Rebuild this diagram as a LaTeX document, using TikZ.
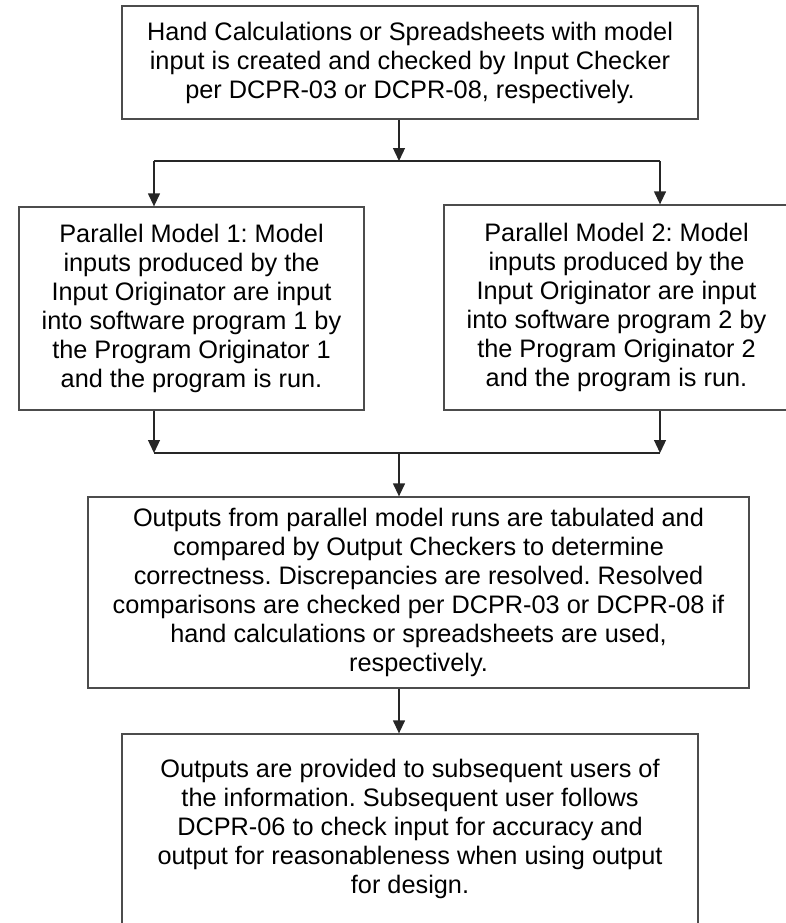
\documentclass[tikz,border=0pt]{standalone}
\usepackage{fontspec}
\setmainfont{Liberation Sans}
\frenchspacing
\usetikzlibrary{arrows.meta,calc}
\tikzset{
	stepbox/.style={
			draw=black!70, line width=1.3pt, inner sep=0pt, align=center,
			font=\fontsize{25.3}{29}\selectfont
		},
	flow/.style={line width=1.3pt, black!85},
	arr/.style={flow, -{Triangle[width=12pt,length=13pt]}}
}

\begin{document}
\begin{tikzpicture}[x=1pt, y=-1pt]
			\useasboundingbox (0, 0) rectangle (786, 923);
			\clip (0, 0) rectangle (786, 923);

			% boxes
			\node[stepbox, minimum width=576, minimum height=113] (hand) at (410, 62.5)
				{Hand Calculations or Spreadsheets with model\\input is created and checked by Input Checker\\per DCPR-03 or DCPR-08, respectively.};
			\node[stepbox, minimum width=345, minimum height=203] (par1) at (191.5, 308.5)
				{Parallel Model 1: Model\\inputs produced by the\\Input Originator are input\\into software program 1 by\\the Program Originator 1\\and the program is run.};
			\node[stepbox, minimum width=345, minimum height=205] (par2) at (616.5, 307.5)
				{Parallel Model 2: Model\\inputs produced by the\\Input Originator are input\\into software program 2 by\\the Program Originator 2\\and the program is run.};
			\node[stepbox, minimum width=661, minimum height=191] (cmp) at (418.5, 592.5)
				{Outputs from parallel model runs are tabulated and\\compared by Output Checkers to determine\\correctness. Discrepancies are resolved. Resolved\\comparisons are checked per DCPR-03 or DCPR-08 if\\hand calculations or spreadsheets are used,\\respectively.};
			\node[stepbox, minimum width=576, minimum height=190] (out) at (410, 829)
				{Outputs are provided to subsequent users of\\the information. Subsequent user follows\\DCPR-06 to check input for accuracy and\\output for reasonableness when using output\\for design.};

			% junctions
			\coordinate (split) at (399, 161);
			\coordinate (sl) at (154, 161);
			\coordinate (sr) at (660, 161);
			\coordinate (merge) at (399, 453);
			\coordinate (ml) at (154, 453);
			\coordinate (mr) at (660, 453);

			% connectors
			\draw[arr]	(hand.south -| split) to (split);
			\draw[flow]	(sl) to (sr);
			\draw[arr]	(sl) to (sl |- par1.north);
			\draw[arr]	(sr) to (sr |- par2.north);
			\draw[arr]	(sl |- par1.south) to (ml);
			\draw[arr]	(sr |- par2.south) to (mr);
			\draw[flow]	(ml) to (mr);
			\draw[arr]	(merge) to (merge |- cmp.north);
			\draw[arr]	(cmp.south -| merge) to (merge |- out.north);
		\end{tikzpicture}
\end{document}
